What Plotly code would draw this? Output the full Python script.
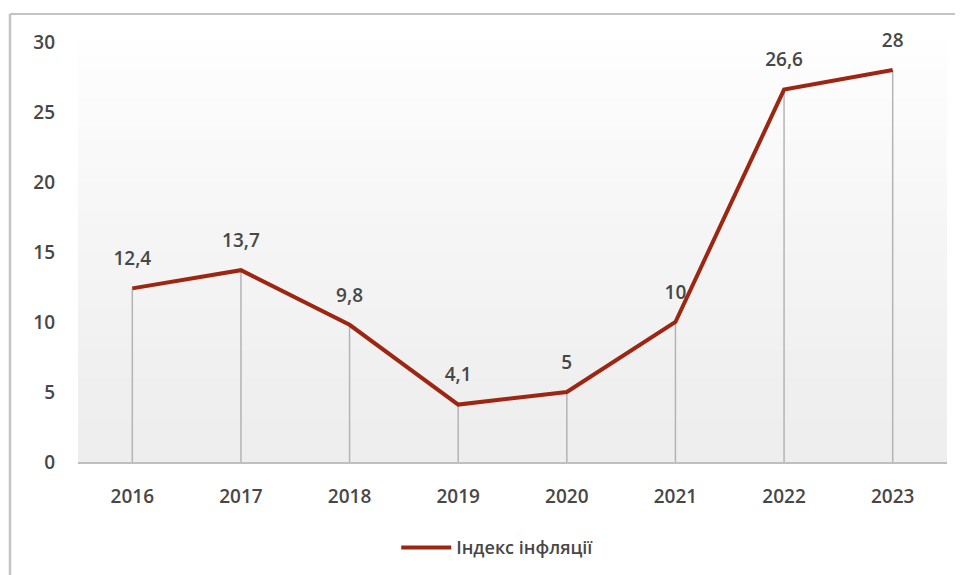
import plotly.graph_objects as go

years = ["2016", "2017", "2018", "2019", "2020", "2021", "2022", "2023"]
inflation = [12.4, 13.7, 9.8, 4.1, 5, 10, 26.6, 28]
series_name = "Індекс інфляції"
y_ticks = [0, 5, 10, 15, 20, 25, 30]

labels = [str(v).replace(".", ",") for v in inflation]

FONT = "Open Sans"
TXT = "#474747"
WEIGHT = 600

# page has an 8px body margin -> figure is offset by 8px
W, H = 955, 567
L, T = 70, 34
PLOT_W = 939 - L
PLOT_H = 454 - T

fig = go.Figure()

# drop lines (vertical gray lines from point to axis)
fig.add_trace(go.Scatter(
    x=years, y=inflation, mode="markers",
    marker=dict(size=0.1, color="rgba(0,0,0,0)"),
    error_y=dict(type="data", symmetric=False, array=[0] * len(inflation),
                 arrayminus=inflation, color="#b4b4b4", thickness=1.5, width=0),
    showlegend=False, hoverinfo="skip",
))

fig.add_trace(go.Scatter(
    x=years, y=inflation, mode="lines", name=series_name,
    line=dict(color="#9c2612", width=4),
    hoverinfo="skip",
))

# data labels, lifted above the points by a transparent marker
fig.add_trace(go.Scatter(
    x=years, y=inflation, mode="markers+text",
    marker=dict(size=28, color="rgba(0,0,0,0)"),
    text=labels, textposition="top center",
    textfont=dict(family=FONT, size=19, color=TXT, weight=WEIGHT),
    showlegend=False, hoverinfo="skip", cliponaxis=False,
))

# gradient background stripes
shapes = []
n = 30
for i in range(n):
    t = i / n
    c = int(238 + (255 - 238) * (t ** 1.2))
    shapes.append(dict(type="rect", xref="x domain", yref="y domain",
                       x0=0, x1=1, y0=t, y1=(i + 1) / n + 0.002,
                       fillcolor=f"rgb({c},{c},{c})", line=dict(width=0),
                       layer="below"))

# outer frame lines
fx = (2 - L) / PLOT_W
fy = (454 - 6) / PLOT_H
shapes.append(dict(type="line", xref="paper", yref="paper", x0=fx, x1=1.2,
                   y0=fy, y1=fy, line=dict(color="#c4c4c4", width=2)))
shapes.append(dict(type="line", xref="paper", yref="paper", x0=fx, x1=fx,
                   y0=fy, y1=-0.5, line=dict(color="#c4c4c4", width=2.5)))

fig.update_layout(
    width=W, height=H,
    margin=dict(l=L, r=W - 939, t=T, b=H - 454, autoexpand=False),
    paper_bgcolor="white", plot_bgcolor="white",
    shapes=shapes,
    font=dict(family=FONT, size=19, color=TXT),
    xaxis=dict(type="category", showgrid=False, showline=True,
               linecolor="#bfbfbf", linewidth=1.5, ticks="",
               ticklabelstandoff=16,
               tickfont=dict(family=FONT, size=19, color=TXT, weight=WEIGHT),
               range=[-0.5, len(years) - 0.5], fixedrange=True),
    yaxis=dict(range=[0, 30], tickvals=y_ticks, showgrid=False,
               zeroline=False, showline=False, ticks="",
               ticklabelstandoff=22,
               tickfont=dict(family=FONT, size=19, color=TXT, weight=WEIGHT)),
    legend=dict(orientation="h", x=0.483, xanchor="center", y=-0.16,
                yanchor="top",
                font=dict(family=FONT, size=18, color=TXT, weight=WEIGHT),
                itemwidth=50),
    showlegend=True,
)

fig.write_html("out.html")
